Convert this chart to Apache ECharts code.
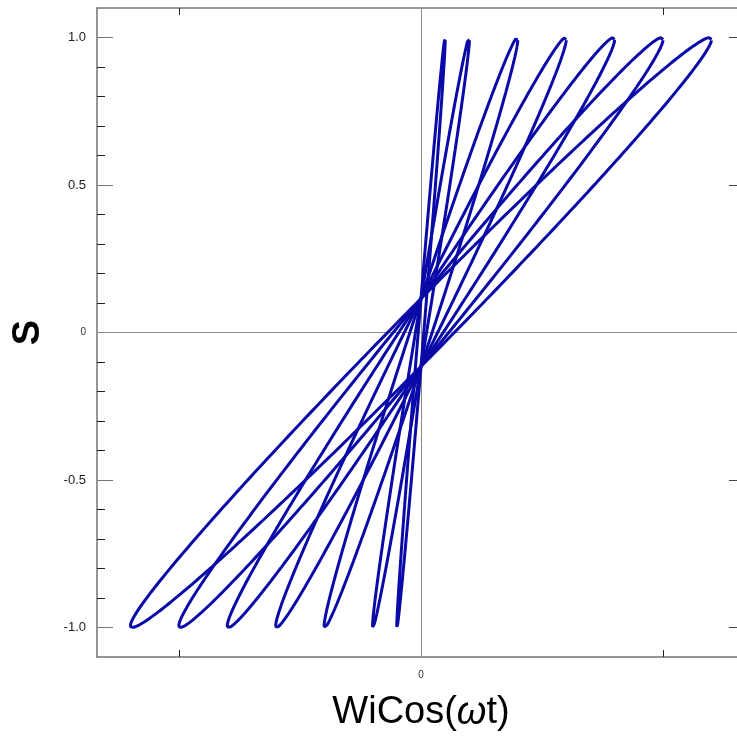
<!DOCTYPE html>
<html>
<head>
    <meta charset="utf-8">
    <script src="https://cdn.jsdelivr.net/npm/echarts@6/dist/echarts.min.js"></script>
    <title>S vs WiCos(wt)</title>
    <style>
        html, body { margin: 0; padding: 0; background: #fff; }
        #main { width: 737px; height: 736px; }
    </style>
</head>
<body>
    <div id="main"></div>
    <script type="text/javascript">
        // amplitudes Wi of the loops, read from where each loop touches S = +/-1
        var wi = [0.1, 0.2, 0.4, 0.6, 0.8, 1.0, 1.2];
        // phase lag (rad): loops cross the S axis at about +/-0.1 .. 0.12
        var phase = 0.115;
        var steps = 360;

        var xTicks = [-1, 1];
        var xLabels = [0];
        var yMajor = [-1, -0.5, 0, 0.5, 1];
        var yMinor = [-0.9, -0.8, -0.7, -0.6, -0.4, -0.3, -0.2, -0.1,
                      0.1, 0.2, 0.3, 0.4, 0.6, 0.7, 0.8, 0.9];

        var xMin = -1.338, xMax = 1.338, yMin = -1.1, yMax = 1.1;

        var frameColor = '#737373';
        var lineColor = '#0a0aa8';

        var myChart = echarts.init(document.getElementById('main'));

        var series = wi.map(function (w, k) {
            var pts = [];
            for (var i = 0; i <= steps; i++) {
                var t = 2 * Math.PI * i / steps;
                pts.push([w * Math.cos(t), Math.cos(t - phase)]);
            }
            var s = {
                type: 'line',
                data: pts,
                showSymbol: false,
                smooth: false,
                lineStyle: { color: lineColor, width: 3 },
                itemStyle: { color: lineColor },
                z: 3
            };
            if (k === 0) {
                s.markLine = {
                    silent: true,
                    symbol: 'none',
                    label: { show: false },
                    lineStyle: { color: '#8c8c8c', width: 1, type: 'solid' },
                    data: [{ xAxis: 0 }, { yAxis: 0 }],
                    z: 1
                };
            }
            return s;
        });

        function numLabel(v) {
            if (v === 0) return '{z|0}';
            return v.toFixed(1);
        }

        var labelRich = { z: { fontSize: 10, color: '#333', fontFamily: 'Liberation Sans' } };

        function tickAxis(pos, ticks, len, color, showLine) {
            return {
                type: 'value',
                position: pos,
                min: yMin, max: yMax,
                axisLine: { show: showLine, onZero: false, lineStyle: { color: frameColor, width: 1.5 } },
                axisTick: { show: true, inside: true, length: len, customValues: ticks, lineStyle: { color: color } },
                axisLabel: { show: false },
                splitLine: { show: false }
            };
        }

        var option = {
            animation: false,
            backgroundColor: '#fff',
            grid: { left: 97, top: 8, width: 648, height: 649, outerBoundsMode: 'none', containLabel: false },
            xAxis: [{
                type: 'value',
                position: 'bottom',
                min: xMin, max: xMax,
                name: 'WiCos({w|ω}t)',
                nameLocation: 'middle',
                nameGap: 37,
                nameTextStyle: {
                    fontSize: 38, color: '#000', fontFamily: 'Liberation Sans',
                    rich: { w: { fontSize: 38, fontStyle: 'italic', color: '#000', fontFamily: 'Liberation Sans' } }
                },
                axisLine: { show: true, onZero: false, lineStyle: { color: frameColor, width: 1.5 } },
                axisTick: { show: true, inside: true, length: 7, customValues: xTicks, lineStyle: { color: '#222' } },
                axisLabel: { show: true, customValues: xLabels, margin: 13, formatter: numLabel, rich: labelRich },
                splitLine: { show: false }
            }, {
                type: 'value',
                position: 'top',
                min: xMin, max: xMax,
                axisLine: { show: true, onZero: false, lineStyle: { color: frameColor, width: 1.5 } },
                axisTick: { show: true, inside: true, length: 7, customValues: xTicks, lineStyle: { color: '#222' } },
                axisLabel: { show: false },
                splitLine: { show: false }
            }],
            yAxis: [{
                type: 'value',
                position: 'left',
                min: yMin, max: yMax,
                name: 'S',
                nameLocation: 'middle',
                nameGap: 49,
                nameRotate: 90,
                nameTextStyle: { fontSize: 38, fontWeight: 'bold', color: '#000', fontFamily: 'Liberation Sans' },
                axisLine: { show: true, onZero: false, lineStyle: { color: frameColor, width: 1.5 } },
                axisTick: { show: true, inside: true, length: 16, customValues: yMajor, lineStyle: { color: '#777' } },
                axisLabel: {
                    show: true, customValues: yMajor, margin: 11, formatter: numLabel, rich: labelRich,
                    fontSize: 13, color: '#222', fontFamily: 'Liberation Sans'
                },
                splitLine: { show: false }
            },
                tickAxis('left', yMinor, 8, '#222', false),
                tickAxis('right', yMajor, 16, '#444', true),
                tickAxis('right', yMinor, 8, '#444', false)
            ],
            series: series
        };

        myChart.setOption(option);
    </script>
</body>
</html>
